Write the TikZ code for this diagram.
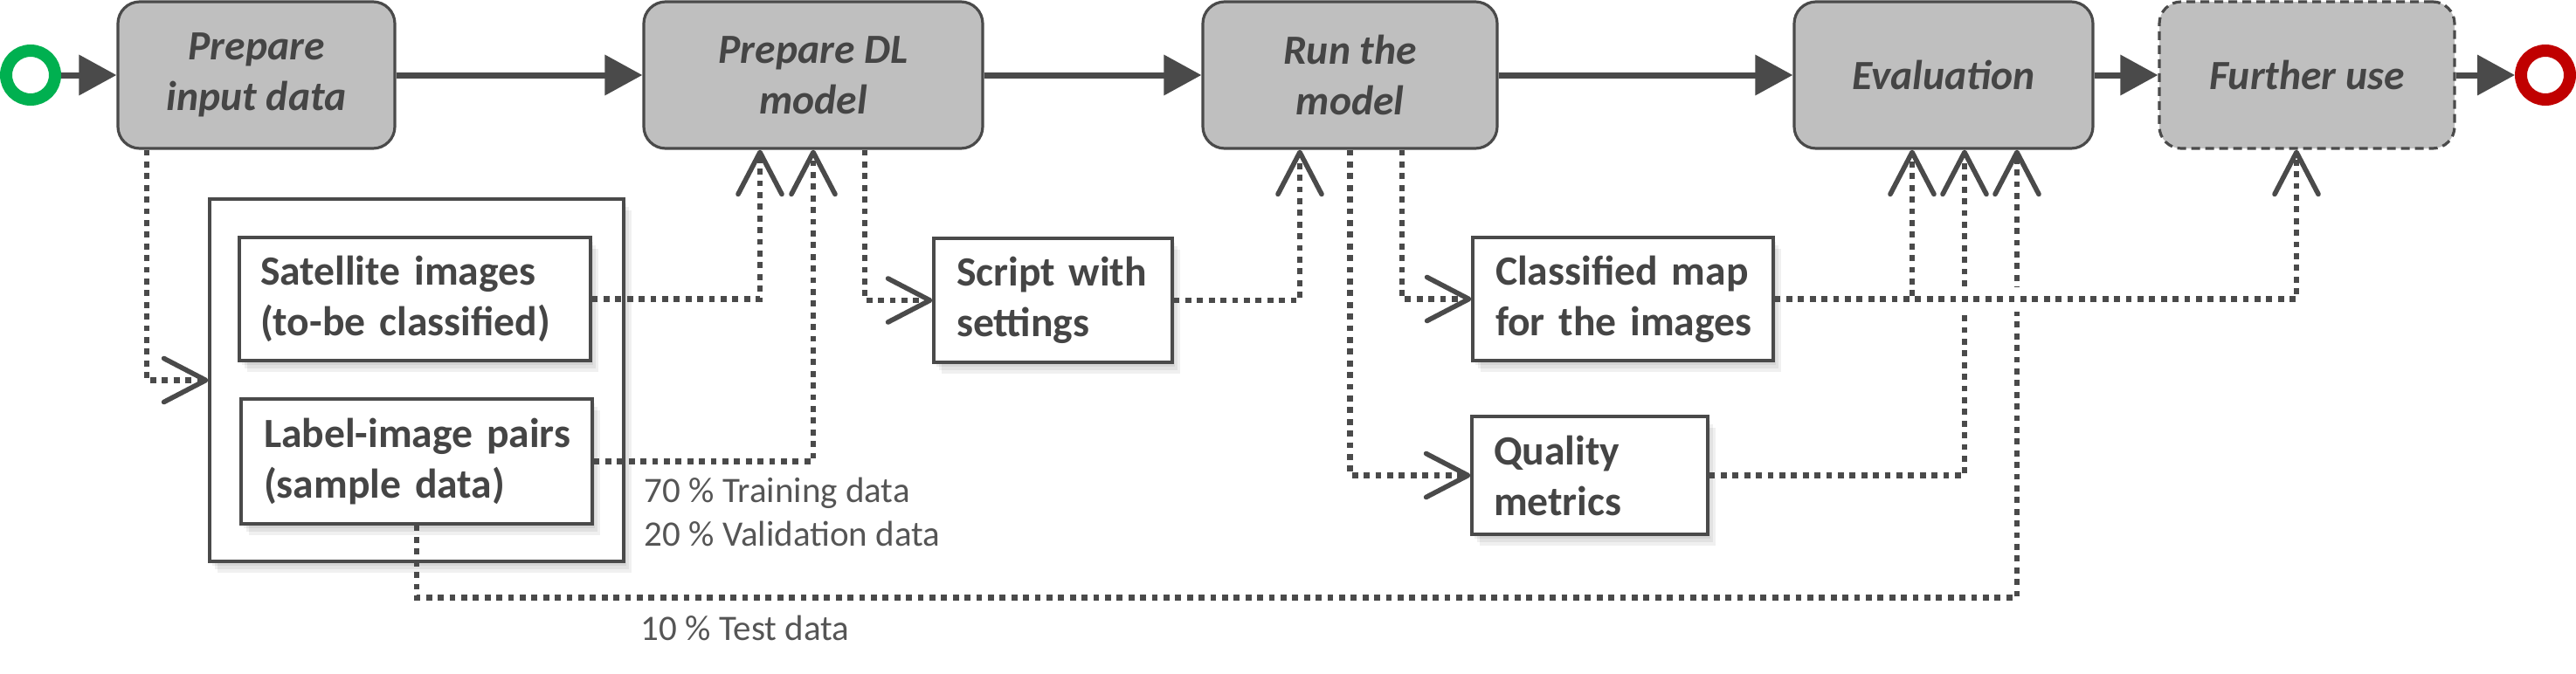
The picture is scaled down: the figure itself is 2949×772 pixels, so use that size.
\documentclass[tikz,border=0pt]{standalone}
\usepackage{fontspec}
\setmainfont{Carlito}
\usetikzlibrary{arrows.meta,shadows,calc}
\definecolor{ln}{HTML}{4A4A4A}
\definecolor{boxfill}{HTML}{BFBFBF}
\definecolor{txt}{HTML}{454545}
\definecolor{lbl}{HTML}{555555}
\definecolor{startc}{HTML}{00B050}
\definecolor{endc}{HTML}{C00000}
\begin{document}
\begin{tikzpicture}[x=0.25pt,y=-0.25pt,
  task/.style={draw=ln, line width=0.8pt, fill=boxfill, rounded corners=6.25pt, minimum height=42pt,
    inner sep=0pt, align=center, text=txt, font=\fontsize{11.9pt}{14.5pt}\selectfont\bfseries\itshape},
  shadowed/.style={
    general shadow={fill=black, opacity=0.06, shadow xshift=0.75pt, shadow yshift=-1.25pt},
    general shadow={fill=black, opacity=0.06, shadow xshift=1.5pt, shadow yshift=-2.25pt},
    general shadow={fill=black, opacity=0.06, shadow xshift=2.25pt, shadow yshift=-3.25pt}},
  item/.style={draw=ln, line width=0.8pt, fill=white, inner ysep=0pt, align=left, text=txt,
    font=\fontsize{11.9pt}{14.5pt}\selectfont\bfseries, shadowed},
  lbl/.style={text=lbl, font=\fontsize{10.25pt}{12.5pt}\selectfont, inner sep=0pt, anchor=base west},
  dotline/.style={draw=ln, line width=1.7pt, dash pattern=on 1.7pt off 1.65pt},
  openarrow/.style={-{Straight Barb[length=12pt,width=12.5pt,line width=1.4pt,round]}},
  mainline/.style={draw=ln, line width=1.75pt, -{Triangle[length=10.75pt,width=11.25pt]}},
  event/.style={circle, line width=3.5pt, minimum size=14pt, inner sep=0pt, fill=white}
]
\useasboundingbox (0,0) rectangle (2949,772);

% start / end events
\node[event, draw=startc] (s) at (35,86) {};
\node[event, draw=endc] (r) at (2914,86) {};

% main tasks
\node[task, minimum width=79.25pt] (A) at (293.5,86) {Prepare\\input data};
\node[task, minimum width=97pt] (B) at (931,86) {Prepare DL\\model};
\node[task, minimum width=84.25pt] (C) at (1545.5,86) {Run the\\model};
\node[task, minimum width=85.5pt] (D) at (2225,86) {Evaluation};
\node[task, minimum width=84.5pt, dash pattern=on 2.5pt off 1.5pt] (E) at (2641,86) {Further use};

% data container and items
\node[draw=ln, line width=0.8pt, fill=white, shadowed, minimum width=118.5pt, minimum height=103.75pt, inner sep=0pt] (F) at (477,435.5) {};
\node[item, inner xsep=6pt, text width=88.5pt, minimum height=35.25pt] (G) at (475,342.5)
  {\mbox{Satellite images}\\\mbox{(to-be classified)}};
\node[item, inner xsep=6.5pt, text width=87.5pt, minimum height=35.75pt] (H) at (477,528.5)
  {\mbox{Label-image pairs}\\\mbox{(sample data)}};
\node[item, inner xsep=6.5pt, text width=55.25pt, minimum height=35.5pt] (I) at (1205.5,344)
  {\mbox{Script with}\\\mbox{settings}};
\node[item, inner xsep=6.5pt, text width=73pt, minimum height=35.25pt] (J) at (1858,342.5)
  {\mbox{Classified map}\\\mbox{for the images}};
\node[item, inner xsep=6.25pt, text width=55pt, minimum height=33.75pt] (K) at (1820,544.5)
  {\mbox{Quality}\\\mbox{metrics}};

% labels
\node[lbl] (l1) at (737,575) {70 \% Training data};
\node[lbl] (l2) at (737,625) {20 \% Validation data};
\node[lbl] (l3) at (733,733) {10 \% Test data};

% connector coordinates
\coordinate (a1) at ($(A.south)+(-125.5,0)$);
\coordinate (b1) at ($(B.south)+(-61,0)$);
\coordinate (b3) at ($(B.south)+(59,0)$);
\coordinate (c1) at ($(C.south)+(-57.5,0)$);
\coordinate (c3) at ($(C.south)+(59.5,0)$);
\coordinate (d1) at ($(D.south)+(-36,0)$);
\coordinate (d2) at ($(D.south)+(24,0)$);
\coordinate (d3) at ($(D.south)+(84,0)$);
\coordinate (e1) at ($(E.south)+(-12,0)$);
\coordinate (hb) at ($(H.south)+(0,83)$);
\coordinate (g1) at ($(J.east -| d2)+(-14,0)$);
\coordinate (g2) at ($(J.east -| d3)+(14,0)$);

% main flow
\draw[mainline] (s) -- (A);
\draw[mainline] (A) -- (B);
\draw[mainline] (B) -- (C);
\draw[mainline] (C) -- (D);
\draw[mainline] (D) -- (E);
\draw[mainline] (E) -- (r);

% data associations
\draw[dotline, openarrow] (a1) |- (F.west);
\draw[dotline, openarrow] (G.east) -| (b1);
\draw[dotline, openarrow] (H.east) -| (B.south);
\draw[dotline, openarrow] (b3) |- (I.west);
\draw[dotline, openarrow] (I.east) -| (c1);
\draw[dotline, openarrow] (c3) |- (J.west);
\draw[dotline, openarrow] (C.south) |- (K.west);
\draw[dotline, openarrow] (K.east) -| (d2);
\draw[dotline, openarrow] (H.south) -- (hb) -| (d3);
\draw[white, line width=7pt] (g1) -- (g2);
\draw[dotline, openarrow] (J.east) -| (d1);
\draw[dotline, openarrow] (J.east) -| (e1);
\end{tikzpicture}
\end{document}
